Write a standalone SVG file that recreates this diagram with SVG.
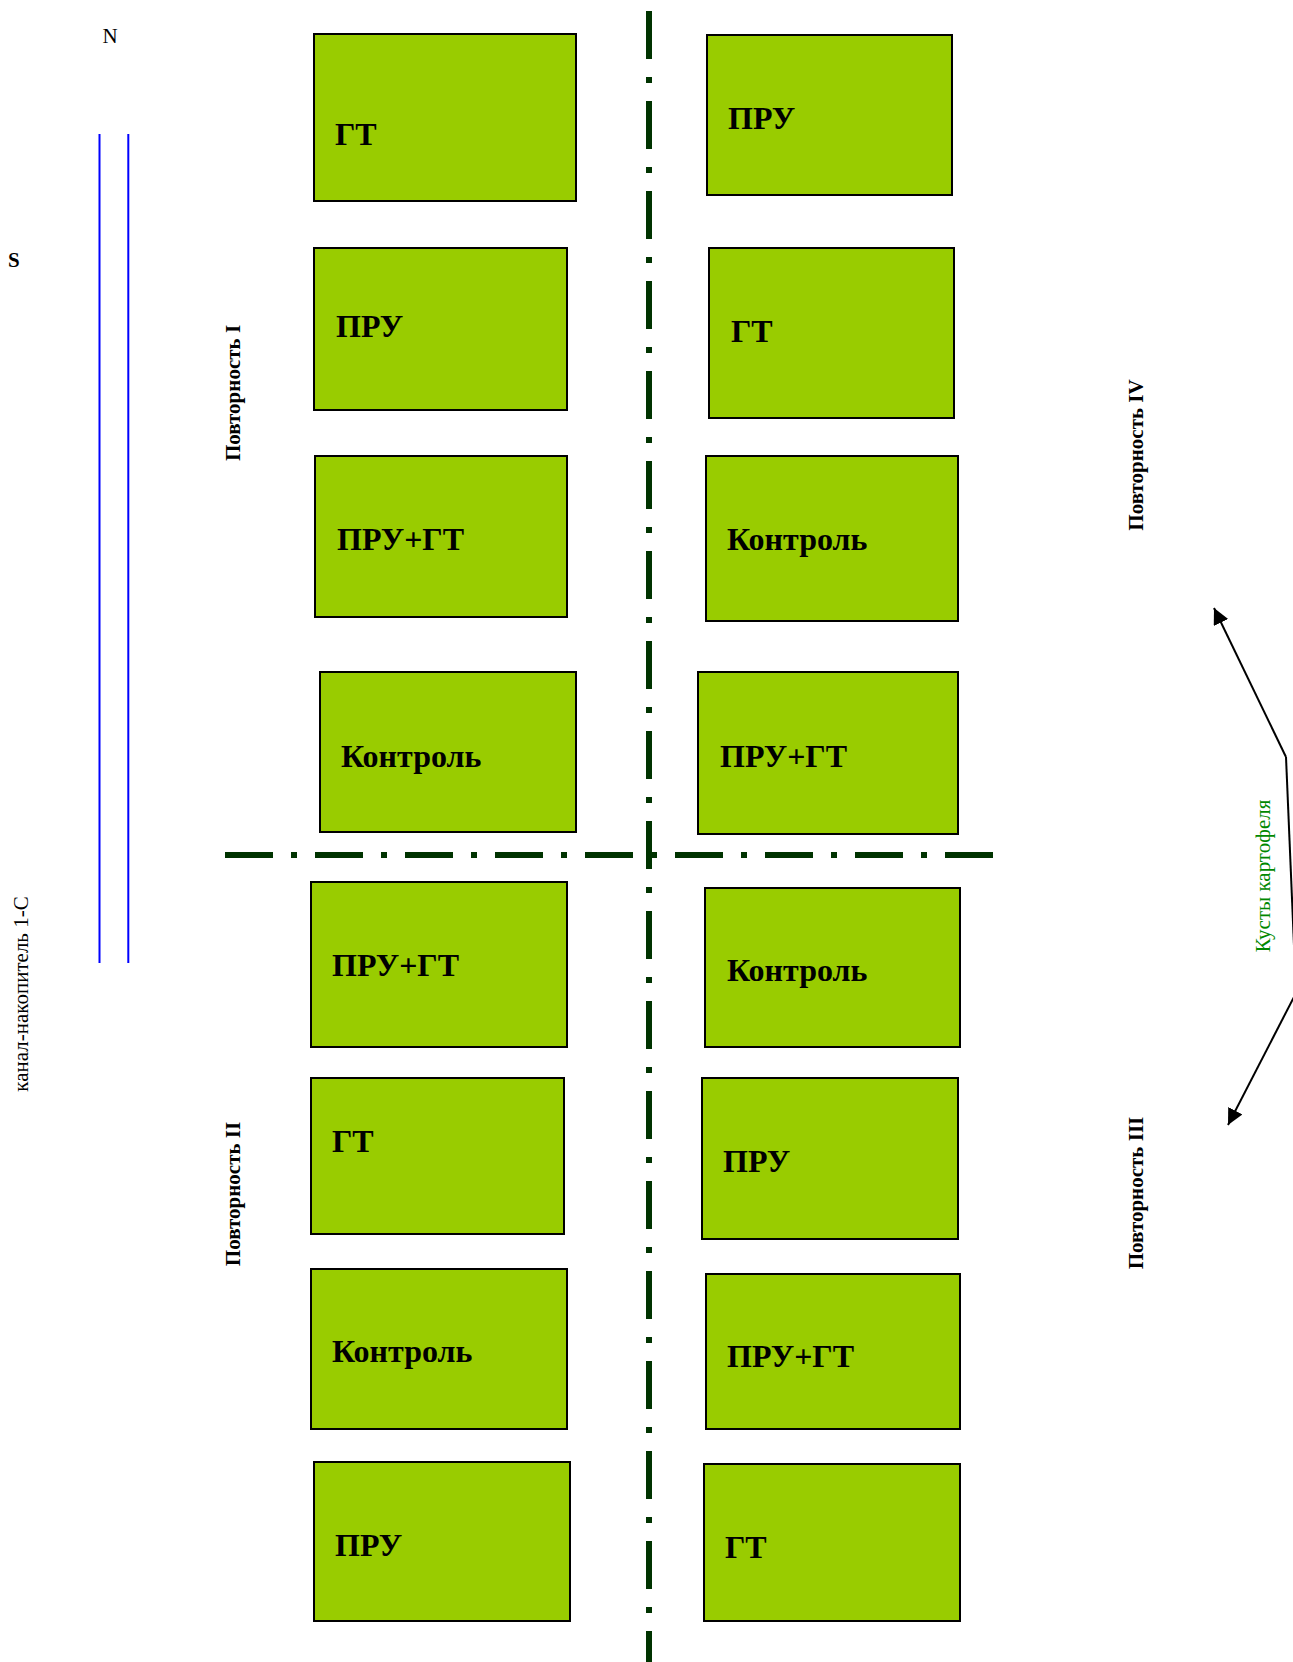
<svg xmlns="http://www.w3.org/2000/svg" width="1293" height="1662" viewBox="0 0 1293 1662">
<style>
.plot{fill:#99cc00;stroke:#000;stroke-width:2}
.lbl{font-family:"Liberation Serif","Times New Roman",serif;font-weight:bold;font-size:32px;fill:#000}
.rep{font-family:"Liberation Serif","Times New Roman",serif;font-weight:bold;font-size:21px;fill:#000;text-anchor:middle}
.plain{font-family:"Liberation Serif","Times New Roman",serif;font-size:21px;fill:#000}
.div{stroke:#003300;stroke-width:6;stroke-dasharray:48 18 6 18;fill:none}
.arr{stroke:#000;stroke-width:2;fill:none}
</style>
<defs>
<marker id="ah" markerUnits="userSpaceOnUse" markerWidth="20" markerHeight="20" refX="16" refY="8" orient="auto">
<path d="M0,0 L16,8 L0,16 Z" fill="#000"/>
</marker>
</defs>
<rect width="1293" height="1662" fill="#fff"/>

<g id="compass">
<text class="plain" x="110" y="43" text-anchor="middle" font-size="19">N</text>
<text class="plain" x="8" y="267" font-weight="bold">S</text>
</g>

<g id="canal">
<line x1="99.5" y1="134" x2="99.5" y2="963" stroke="#0000ff" stroke-width="2"/>
<line x1="128.3" y1="134" x2="128.3" y2="963" stroke="#0000ff" stroke-width="2"/>
<text class="plain" transform="translate(28,994) rotate(-90)" text-anchor="middle">канал-накопитель 1-С</text>
</g>

<g id="dividers">
<line class="div" x1="649" y1="11" x2="649" y2="1662"/>
<line class="div" x1="225" y1="855" x2="993" y2="855"/>
</g>

<g id="rep-labels">
<text class="rep" transform="translate(240,393) rotate(-90)">Повторность I</text>
<text class="rep" transform="translate(240,1194) rotate(-90)">Повторность II</text>
<text class="rep" transform="translate(1143,1193) rotate(-90)">Повторность III</text>
<text class="rep" transform="translate(1143,455) rotate(-90)">Повторность IV</text>
</g>

<g id="L1"><rect class="plot" x="314" y="34" width="262" height="167"/><text class="lbl" x="335" y="145">ГТ</text></g>
<g id="L2"><rect class="plot" x="314" y="248" width="253" height="162"/><text class="lbl" x="336" y="337">ПРУ</text></g>
<g id="L3"><rect class="plot" x="315" y="456" width="252" height="161"/><text class="lbl" x="337" y="550">ПРУ+ГТ</text></g>
<g id="L4"><rect class="plot" x="320" y="672" width="256" height="160"/><text class="lbl" x="341" y="767">Контроль</text></g>
<g id="L5"><rect class="plot" x="311" y="882" width="256" height="165"/><text class="lbl" x="332" y="976">ПРУ+ГТ</text></g>
<g id="L6"><rect class="plot" x="311" y="1078" width="253" height="156"/><text class="lbl" x="332" y="1152">ГТ</text></g>
<g id="L7"><rect class="plot" x="311" y="1269" width="256" height="160"/><text class="lbl" x="332" y="1362">Контроль</text></g>
<g id="L8"><rect class="plot" x="314" y="1462" width="256" height="159"/><text class="lbl" x="335" y="1556">ПРУ</text></g>

<g id="R1"><rect class="plot" x="707" y="35" width="245" height="160"/><text class="lbl" x="728" y="129">ПРУ</text></g>
<g id="R2"><rect class="plot" x="709" y="248" width="245" height="170"/><text class="lbl" x="731" y="342">ГТ</text></g>
<g id="R3"><rect class="plot" x="706" y="456" width="252" height="165"/><text class="lbl" x="727" y="550">Контроль</text></g>
<g id="R4"><rect class="plot" x="698" y="672" width="260" height="162"/><text class="lbl" x="720" y="767">ПРУ+ГТ</text></g>
<g id="R5"><rect class="plot" x="705" y="888" width="255" height="159"/><text class="lbl" x="727" y="981">Контроль</text></g>
<g id="R6"><rect class="plot" x="702" y="1078" width="256" height="161"/><text class="lbl" x="723" y="1172">ПРУ</text></g>
<g id="R7"><rect class="plot" x="706" y="1274" width="254" height="155"/><text class="lbl" x="727" y="1367">ПРУ+ГТ</text></g>
<g id="R8"><rect class="plot" x="704" y="1464" width="256" height="157"/><text class="lbl" x="725" y="1558">ГТ</text></g>

<g id="potato-label">
<text class="plain" transform="translate(1270,876) rotate(-90)" text-anchor="middle" style="fill:#008800">Кусты картофеля</text>
</g>

<g id="connectors">
<line class="arr" x1="1286" y1="757" x2="1214" y2="608" marker-end="url(#ah)"/>
<line class="arr" x1="1286" y1="757" x2="1296" y2="993"/>
<line class="arr" x1="1296" y1="993" x2="1228" y2="1125" marker-end="url(#ah)"/>
</g>
</svg>
